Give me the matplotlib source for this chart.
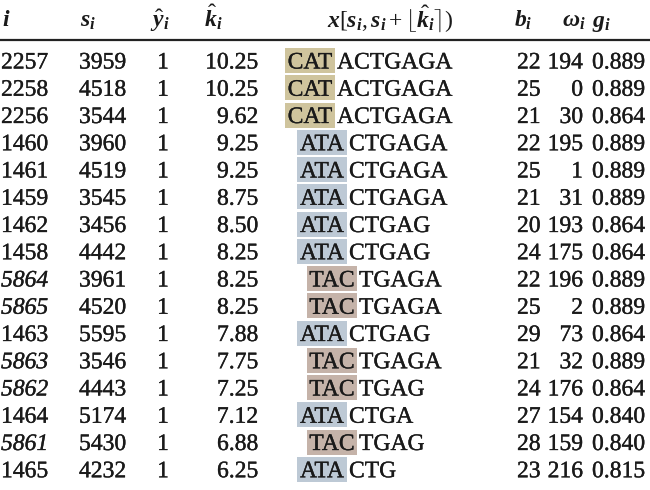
import matplotlib
matplotlib.use("Agg")
import matplotlib.pyplot as plt
from matplotlib.patches import Rectangle
import matplotlib.patheffects as pe

plt.rcParams['mathtext.fontset'] = 'custom'
plt.rcParams['mathtext.rm'] = 'Liberation Serif'
plt.rcParams['mathtext.it'] = 'Liberation Serif:italic:bold'
plt.rcParams['mathtext.bf'] = 'Liberation Serif:bold'
plt.rcParams['mathtext.bfit'] = 'Liberation Serif:italic:bold'

# ---- data ----
idx = [2257, 2258, 2256, 1460, 1461, 1459, 1462, 1458, 5864, 5865, 1463, 5863, 5862, 1464, 5861, 1465]
s_vals = [3959, 4518, 3544, 3960, 4519, 3545, 3456, 4442, 3961, 4520, 5595, 3546, 4443, 5174, 5430, 4232]
y_hat = [1, 1, 1, 1, 1, 1, 1, 1, 1, 1, 1, 1, 1, 1, 1, 1]
k_hat = ["10.25", "10.25", "9.62", "9.25", "9.25", "8.75", "8.50", "8.25", "8.25", "8.25",
         "7.88", "7.75", "7.25", "7.12", "6.88", "6.25"]
motif = ["CAT", "CAT", "CAT", "ATA", "ATA", "ATA", "ATA", "ATA", "TAC", "TAC",
         "ATA", "TAC", "TAC", "ATA", "TAC", "ATA"]
rest = ["ACTGAGA", "ACTGAGA", "ACTGAGA", "CTGAGA", "CTGAGA", "CTGAGA", "CTGAG", "CTGAG",
        "TGAGA", "TGAGA", "CTGAG", "TGAGA", "TGAG", "CTGA", "TGAG", "CTG"]
b_vals = [22, 25, 21, 22, 25, 21, 20, 24, 22, 25, 29, 21, 24, 27, 28, 23]
omega = [194, 0, 30, 195, 1, 31, 193, 175, 196, 2, 73, 32, 176, 154, 159, 216]
g_vals = ["0.889", "0.889", "0.864", "0.889", "0.889", "0.889", "0.864", "0.864", "0.889", "0.889",
          "0.864", "0.889", "0.864", "0.840", "0.840", "0.815"]
headers = [r"$i$", r"$s_i$", r"$\hat{y}_i$", r"$\hat{k}_i$",
           r"$\mathbfit{x}[s_i, s_i + \lfloor\hat{k}_i\rceil)$", r"$b_i$", r"$\omega_i$", r"$g_i$"]
italic_ids = {5864, 5865, 5863, 5862, 5861}

# ---- styles ----
motif_color = {"CAT": "#cfc49d", "ATA": "#bdc9d5", "TAC": "#c5b3a9"}
motif_left = {"CAT": 285, "ATA": 297, "TAC": 307}
FONT = "Liberation Serif"
FS = 17
thick = [pe.withStroke(linewidth=0.25, foreground="#1a1a1a")]

fig = plt.figure(figsize=(6.5, 4.9), dpi=100)
ax = fig.add_axes([0, 0, 1, 1])
ax.set_xlim(0, 650)
ax.set_ylim(490, 0)
ax.axis("off")

# header
hy = 26.5
hx = [(2, "left"), (80, "left"), (150, "left"), (204, "left"), (390, "center"),
      (514, "left"), (562, "left"), (592, "left")]
for (x, ha), h in zip(hx, headers):
    ax.text(x, hy, h, ha=ha, va="baseline", fontsize=17, family=FONT, color="#1a1a1a")
ax.plot([0, 650], [40, 40], color="#222222", lw=1.6, solid_capstyle="butt")

row0, dy = 61.0, 27.25
for r in range(len(idx)):
    yc = row0 + dy * r
    yb = yc + 7.5
    kw = dict(va="baseline", fontsize=FS, family=FONT, color="#1a1a1a", path_effects=thick)
    ax.text(1, yb, str(idx[r]), ha="left",
            style="italic" if idx[r] in italic_ids else "normal", **kw)
    ax.text(79, yb, str(s_vals[r]), ha="left", **kw)
    ax.text(163, yb, str(y_hat[r]), ha="center", **kw)
    ax.text(258, yb, k_hat[r], ha="right", **kw)
    m = motif[r]
    x0 = motif_left[m]
    ax.add_patch(Rectangle((x0, yc - 13), 50, 25, facecolor=motif_color[m], edgecolor="none"))
    ax.text(x0 + 25, yb, m, ha="center", **kw)
    ax.text(x0 + 52, yb, rest[r], ha="left", **kw)
    ax.text(517, yb, str(b_vals[r]), ha="left", **kw)
    ax.text(583, yb, str(omega[r]), ha="right", **kw)
    ax.text(592, yb, g_vals[r], ha="left", **kw)

fig.savefig("out.png", dpi=100)
